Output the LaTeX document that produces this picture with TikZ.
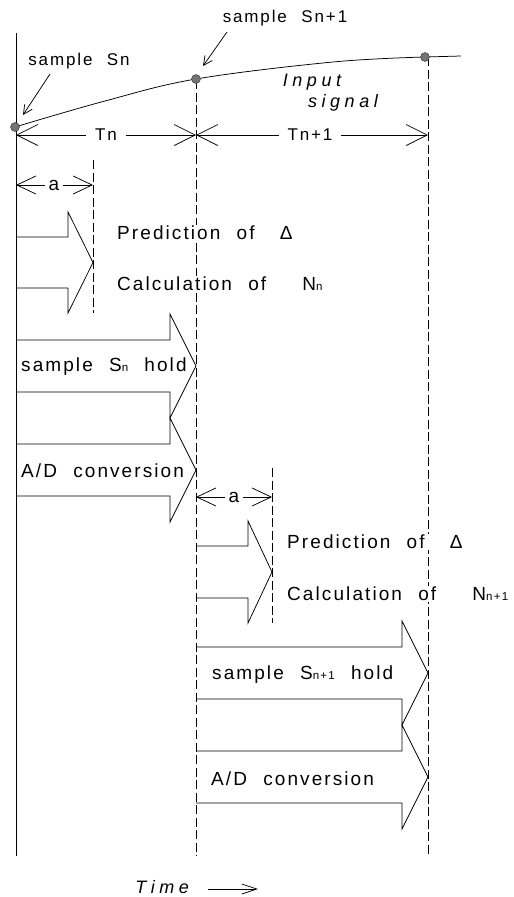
\documentclass[tikz,border=0pt]{standalone}
\usepackage{fontspec}
\setmainfont{Liberation Sans}
\newfontfamily\plotfont{Liberation Sans}[LetterSpace=11,WordSpace=2.2]
\newfontfamily\plotitfont{Liberation Sans}[LetterSpace=25,WordSpace=2.2]
\usetikzlibrary{arrows.meta}
\newcommand{\idx}[1]{{\fontsize{11.5}{11.5}\selectfont #1}}
\newcommand{\blockarrow}[6]{% left, head start, tip, centre, body half, head half
  \draw[plain] (#1,{#4-#5}) -- (#2,{#4-#5}) -- (#2,{#4-#6}) -- (#3,#4)
    -- (#2,{#4+#6}) -- (#2,{#4+#5}) -- (#1,{#4+#5});}
\tikzset{
  plain/.style={line width=0.75pt, line join=miter},
  dashline/.style={line width=0.75pt, dash pattern=on 9pt off 3.5pt},
  dimarr/.style={line width=0.75pt, {Straight Barb[length=21pt,width=21pt]}-{Straight Barb[length=21pt,width=21pt]}},
  dimarrs/.style={line width=0.75pt, {Straight Barb[length=19pt,width=18pt]}-{Straight Barb[length=19pt,width=18pt]}},
  ann/.style={line width=0.75pt, -{Straight Barb[length=9pt,width=9pt]}},
  dot/.style={circle, fill=black!55, draw=black!80, line width=0.4pt, minimum size=9pt, inner sep=0pt},
  lbl/.style={font=\plotfont\fontsize{19}{21}\selectfont, fill=white, inner sep=1pt, anchor=west},
  toplbl/.style={font=\plotfont\fontsize{17}{19}\selectfont, inner sep=1pt},
  dimlbl/.style={font=\plotfont\fontsize{17}{19}\selectfont, fill=white, inner xsep=9pt, inner ysep=1pt},
  alb/.style={font=\plotfont\fontsize{19}{21}\selectfont, fill=white, inner xsep=4pt, inner ysep=1pt},
  sig/.style={font=\plotitfont\itshape\fontsize{18}{20}\selectfont, inner sep=1pt}
}
\begin{document}
\begin{tikzpicture}[x=1pt,y=-1pt]
\useasboundingbox[fill=white] (0,0) rectangle (514,897);

% time axes
\draw[plain] (16,33) -- (16,856);
\draw[dashline] (196,80) -- (196,856);
\draw[dashline] (428,57) -- (428,856);
\draw[dashline] (93,160) -- (93,313);
\draw[dashline] (272,468) -- (272,623);

% input signal
\draw[plain] plot[smooth, tension=0.6] coordinates {(15,127) (105,101) (196,79) (333,62) (425,57)} -- (461,56);
\node[dot] (s0) at (15,127) {};
\node[dot] (s1) at (196,79) {};
\node[dot] (s2) at (425,57) {};

\node[toplbl] (ls0) at (79,61) {sample Sn};
\node[toplbl] (ls1) at (285,18) {sample Sn+1};
\coordinate (a0) at (50,74);
\coordinate (a1) at (227,32);
\draw[ann] (a0) -- (23,115);
\draw[ann] (a1) -- (203,66);
\node[sig] (in1) at (312,82) {Input};
\node[sig] (in2) at (343,103) {signal};

% periods
\coordinate (t0) at (16,135);
\coordinate (t1) at (196,135);
\coordinate (t2) at (428,135);
\draw[dimarr] (t0) -- (t1);
\draw[dimarr] (t1) -- (t2);
\node[dimlbl] (tn) at (106,135) {Tn};
\node[dimlbl] (tn1) at (310,135) {Tn+1};

\coordinate (u0) at (16,185);
\coordinate (u1) at (93,185);
\draw[dimarrs] (u0) -- (u1);
\node[alb] (aa) at (54,185) {a};
\coordinate (v0) at (196,497);
\coordinate (v1) at (272,497);
\draw[dimarrs] (v0) -- (v1);
\node[alb] (ab) at (234,497) {a};

% block arrows, sample n
\blockarrow{16}{68}{93}{262.5}{25.5}{50.5}
\blockarrow{16}{170}{196}{366}{26}{52}
\blockarrow{16}{170}{196}{470}{26}{52}
% block arrows, sample n+1
\blockarrow{196}{248}{272}{572}{26}{51}
\blockarrow{196}{402}{428}{673}{26}{52}
\blockarrow{196}{402}{428}{777}{26}{52}

% texts
\node[lbl] (p1) at (116,233) {Prediction of\hspace{9pt} Δ};
\node[lbl] (c1) at (116,284) {Calculation of\hspace{20pt} N\idx{n}};
\node[lbl] (h1) at (20,367) {sample S\idx{n} hold};
\node[lbl] (d1) at (20,471) {A/D conversion};
\node[lbl] (p2) at (286,542) {Prediction of\hspace{9pt} Δ};
\node[lbl] (c2) at (286,594) {Calculation of\hspace{20pt} N\idx{n+1}};
\node[lbl] (h2) at (211,675) {sample S\idx{n+1} hold};
\node[lbl] (d2) at (210,779) {A/D conversion};

% time
\node[sig, anchor=east] (time) at (190,887) {Time};
\coordinate (ta) at (208,889);
\coordinate (tb) at (258,889);
\draw[plain, -{Straight Barb[length=15pt,width=10pt]}] (ta) -- (tb);
\end{tikzpicture}
\end{document}
